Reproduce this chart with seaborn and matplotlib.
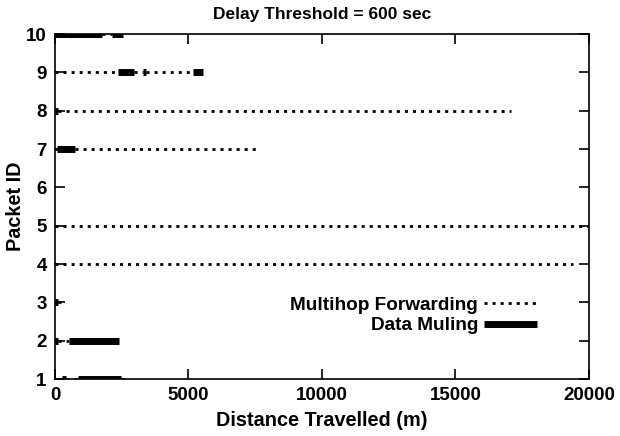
import pandas as pd
import matplotlib.pyplot as plt
import seaborn as sns
from matplotlib.lines import Line2D

# segments per packet: (start, end, mode)  F = multihop forwarding, M = data muling
packet_ids = [10, 9, 8, 7, 5, 4, 3, 2, 1]
seg_start = [
    [0, 1750, 2140],
    [0, 2370, 2950, 3300, 3400, 5180],
    [0, 100],
    [0, 60, 750],
    [0],
    [0],
    [0, 120],
    [0, 120, 540],
    [0, 250, 410, 870, 2470],
]
seg_end = [
    [1750, 2140, 2560],
    [2370, 2950, 3300, 3400, 5180, 5550],
    [100, 17080],
    [60, 750, 7640],
    [20000],
    [19400],
    [120, 370],
    [120, 540, 2400],
    [250, 410, 870, 2470, 2580],
]
seg_mode = [
    ['M', 'F', 'M'],
    ['F', 'M', 'F', 'M', 'F', 'M'],
    ['M', 'F'],
    ['F', 'M', 'F'],
    ['F'],
    ['F'],
    ['M', 'F'],
    ['M', 'F', 'M'],
    ['F', 'M', 'F', 'M', 'F'],
]
mode_names = {'F': 'Multihop Forwarding', 'M': 'Data Muling'}

rows = []
seg = 0
for pid, starts, ends, modes in zip(packet_ids, seg_start, seg_end, seg_mode):
    for s, e, m in zip(starts, ends, modes):
        rows.append({'x': s, 'packet': pid, 'seg': seg, 'mode': mode_names[m]})
        rows.append({'x': e, 'packet': pid, 'seg': seg, 'mode': mode_names[m]})
        seg += 1
df = pd.DataFrame(rows)

sns.set_theme(style='ticks')
plt.rcParams['font.family'] = ['Liberation Sans', 'DejaVu Sans']
plt.rcParams['font.weight'] = 'bold'
plt.rcParams['text.color'] = 'black'
plt.rcParams['axes.labelcolor'] = 'black'
plt.rcParams['xtick.color'] = 'black'
plt.rcParams['ytick.color'] = 'black'

fig = plt.figure(figsize=(6.2, 4.36), dpi=100)
ax = fig.add_axes([0.0887, 0.1307, 0.8613, 0.7913])

dash_f = (1.1, 1.8)
# multihop: thin dotted, muling: thick solid
for mode, lw, dashes in [('Multihop Forwarding', 2.0, dash_f), ('Data Muling', 5.0, '')]:
    sub = df[df['mode'] == mode]
    sns.lineplot(data=sub, x='x', y='packet', units='seg', estimator=None,
                 color='black', linewidth=lw, dashes=False, ax=ax, legend=False,
                 sort=False)
    for line in ax.lines[-sub['seg'].nunique():]:
        if dashes:
            line.set_dashes(dashes)
        line.set_solid_capstyle('butt')
        line.set_dash_capstyle('butt')

ax.set_xlim(0, 20000)
ax.set_ylim(1, 10)
ax.set_xticks([0, 5000, 10000, 15000, 20000])
ax.set_yticks(range(1, 11))
ax.tick_params(direction='in', length=7, width=1.2, top=True, right=True,
               labelsize=13.5, pad=6, colors='black')
for lab in ax.get_xticklabels() + ax.get_yticklabels():
    lab.set_fontweight('bold')
for sp in ax.spines.values():
    sp.set_visible(True)
    sp.set_linewidth(1.2)
    sp.set_color('black')

ax.set_xlabel('Distance Travelled (m)', fontsize=14.3, fontweight='bold', labelpad=5)
ax.set_ylabel('Packet ID', fontsize=14.3, fontweight='bold', labelpad=0.5)
ax.set_title('Delay Threshold = 600 sec', fontsize=12.5, fontweight='bold', pad=11)

handles = [
    Line2D([], [], color='black', lw=2.0, dashes=dash_f, dash_capstyle='butt'),
    Line2D([], [], color='black', lw=5.0, solid_capstyle='butt'),
]
leg = ax.legend(handles, ['Multihop Forwarding', 'Data Muling'], loc='lower right',
                bbox_to_anchor=(0.903, 0.13), frameon=False, markerfirst=False,
                fontsize=13.7, handlelength=2.8, handletextpad=0.3, labelspacing=0.15,
                borderaxespad=0, borderpad=0)
for t in leg.get_texts():
    t.set_fontweight('bold')
    t.set_color('black')

fig.savefig('out.png', dpi=100)
